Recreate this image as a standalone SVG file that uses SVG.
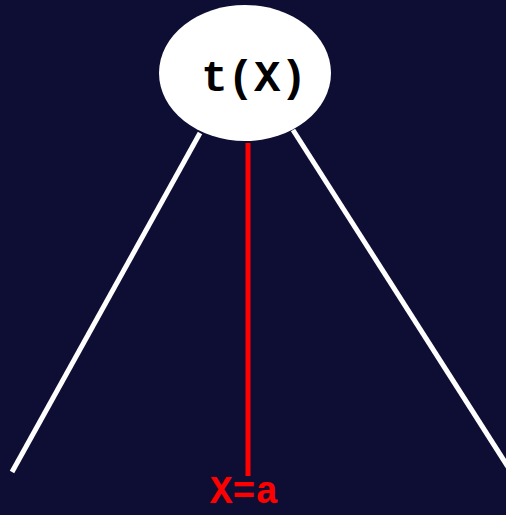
<svg xmlns="http://www.w3.org/2000/svg" width="506" height="515" viewBox="0 0 506 515">
<style>
.edge{stroke:#ffffff;stroke-width:5;fill:none}
.red{stroke:#ff0000;stroke-width:5;fill:none}
.lbl{font-family:"Liberation Mono","Courier New",monospace;font-weight:bold;text-anchor:middle}
</style>
<rect width="506" height="515" fill="#0e0e34"/>
<g id="connectors">
<line class="edge" x1="200" y1="133" x2="12" y2="472"/>
<line class="edge" x1="293" y1="130" x2="510" y2="470"/>
<line class="red" x1="248" y1="143" x2="248" y2="476"/>
</g>
<g id="node-tX">
<ellipse cx="245" cy="73" rx="86" ry="68" fill="#ffffff"/>
<text class="lbl" x="254" y="91" font-size="44" fill="#000000">t(X)</text>
</g>
<g id="label-xa">
<text class="lbl" x="244" y="503" font-size="38" fill="#ff0000">X=a</text>
</g>
</svg>
